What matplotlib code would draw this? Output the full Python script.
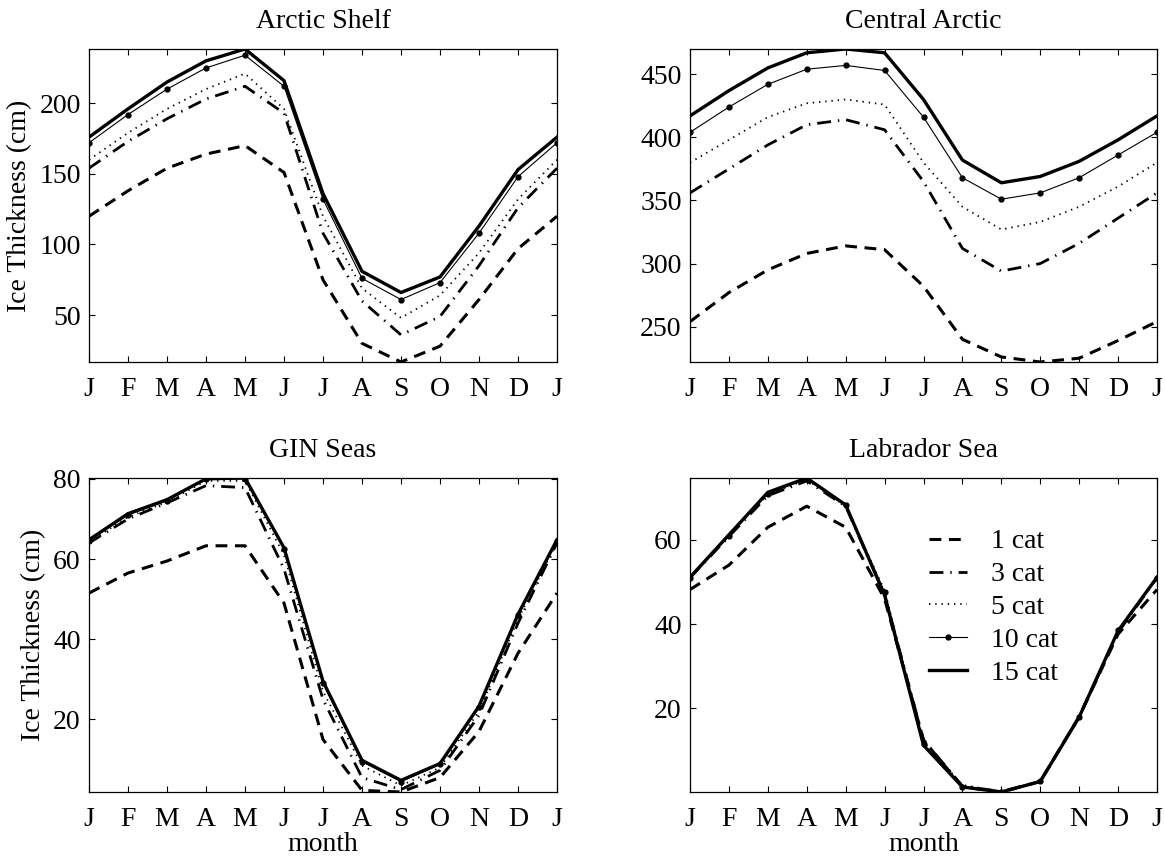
import matplotlib
matplotlib.use('Agg')
import matplotlib.pyplot as plt

plt.rcParams['font.family'] = ['Liberation Serif', 'DejaVu Serif']
plt.rcParams['lines.scale_dashes'] = False

#Data (monthly ice thickness, cm, Jan..Jan)
months = list(range(13))
monthLabels = ['J', 'F', 'M', 'A', 'M', 'J', 'J', 'A', 'S', 'O', 'N', 'D', 'J']
catLabels = ['1 cat', '3 cat', '5 cat', '10 cat', '15 cat']

shelf1 = [120, 138, 154, 164, 170, 151, 75, 30, 16.8, 28, 61, 97, 120]
shelf3 = [154, 173, 189, 203, 212, 193, 108, 60, 36, 49, 85, 126, 154]
shelf5 = [160, 179, 196, 210, 221, 196, 120, 69, 48, 64, 94, 132, 160]
shelf10 = [172, 192, 210, 225, 234, 212, 132, 76, 61, 73, 108, 148, 172]
shelf15 = [176, 196, 215, 230, 238.4, 216, 136, 81, 66, 77, 113, 153, 176]

central1 = [254, 277, 295, 308, 314, 311, 282, 240, 226, 222, 225, 239, 254]
central3 = [356, 375, 394, 410, 414, 406, 365, 312, 294, 300, 316, 336, 356]
central5 = [380, 398, 416, 427, 430, 426, 380, 345, 327, 333, 345, 361, 380]
central10 = [404, 424, 442, 454, 457, 453, 416, 368, 351, 356, 368, 386, 404]
central15 = [417, 437, 455, 467, 470, 467, 430, 382, 364, 369, 381, 398, 417]

gin1 = [51.5, 56.5, 59.5, 63.3, 63.3, 49, 15, 2.3, 1.9, 5.5, 17, 36.5, 51.5]
gin3 = [64, 70, 74, 78.3, 77.8, 57.5, 25, 5.5, 2.5, 7.3, 21, 44, 64]
gin5 = [64.2, 70.5, 74.2, 79.5, 79.5, 61, 27, 8.5, 3.5, 8, 22, 45, 64.2]
gin10 = [64.6, 71, 74.5, 80, 80, 62.5, 29, 9.5, 4.5, 8.8, 23, 46, 64.6]
gin15 = [64.8, 71.3, 74.8, 80, 80.2, 62.8, 29.5, 9.8, 4.8, 9, 23.3, 46.2, 64.8]

lab1 = [48.2, 54, 63, 68, 63, 46, 12.4, 1.3, 0.1, 2.6, 18, 37.6, 48.2]
lab3 = [51, 60.8, 70.5, 74, 68, 47, 12.5, 1.5, 0.2, 2.6, 18, 38, 51]
lab5 = [51, 61, 70.8, 74.3, 68, 48, 12, 1.8, 0.2, 2.6, 18, 38.3, 51]
lab10 = [51, 61, 71, 74.5, 68.3, 47.5, 11.5, 1.3, 0.1, 2.6, 18, 38.5, 51]
lab15 = [51.1, 61.2, 71.3, 74.7, 68.3, 46.9, 11.2, 1.3, 0.1, 2.6, 17.9, 38.4, 51.1]

#############################################################################
#PLOTS
#############################################################################

fs = 20
fig = plt.figure(figsize=(11.65, 8.58), dpi=100)

axPos = [[89, 49, 557, 362], [690, 49, 1157, 362],
         [89, 478, 557, 792], [690, 478, 1157, 792]]
W, H = 1165., 858.

panels = [
    ('Arctic Shelf', [shelf1, shelf3, shelf5, shelf10, shelf15], [50, 100, 150, 200]),
    ('Central Arctic', [central1, central3, central5, central10, central15], [250, 300, 350, 400, 450]),
    ('GIN Seas', [gin1, gin3, gin5, gin10, gin15], [20, 40, 60, 80]),
    ('Labrador Sea', [lab1, lab3, lab5, lab10, lab15], [20, 40, 60]),
]

for i, (title, series, yt) in enumerate(panels):
    x0, y0, x1, y1 = axPos[i]
    ax = fig.add_axes([x0 / W, 1 - y1 / H, (x1 - x0) / W, (y1 - y0) / H])

    ax.plot(months, series[0], color='black', lw=2.2, dashes=(8.5, 5.5), label=catLabels[0])
    ax.plot(months, series[1], color='black', lw=2.0, dashes=(10, 5, 1, 5), label=catLabels[1])
    ax.plot(months, series[2], color='black', lw=1.3, dashes=(1, 3.5), label=catLabels[2])
    ax.plot(months, series[3], color='black', lw=0.8, marker='o', ms=3.5, label=catLabels[3])
    ax.plot(months, series[4], color='black', lw=2.4, label=catLabels[4])

    allVals = [v for s in series for v in s]
    ax.set_xlim(0, 12)
    ax.set_ylim(min(allVals), max(allVals))
    ax.set_xticks(months)
    ax.set_xticklabels(monthLabels)
    ax.set_yticks(yt)
    ax.tick_params(direction='in', top=True, right=True, length=4, width=0.8, labelsize=fs)
    ax.tick_params(axis='x', pad=11)
    ax.tick_params(axis='y', pad=6)
    for sp in ax.spines.values():
        sp.set_linewidth(0.9)
    ax.set_title(title, fontsize=fs, pad=15)

    if i % 2 == 0:
        ax.set_ylabel('Ice Thickness (cm)', fontsize=fs, labelpad=5)
    if i >= 2:
        ax.set_xlabel('month', fontsize=fs, labelpad=0)
    if i == 3:
        ax.legend(loc='upper left', bbox_to_anchor=(0.512, 0.838), frameon=False,
                  fontsize=fs, handlelength=1.37, handletextpad=0.86, labelspacing=0.27,
                  borderpad=0, borderaxespad=0)

plt.savefig('out.png', dpi=100)
plt.close()
